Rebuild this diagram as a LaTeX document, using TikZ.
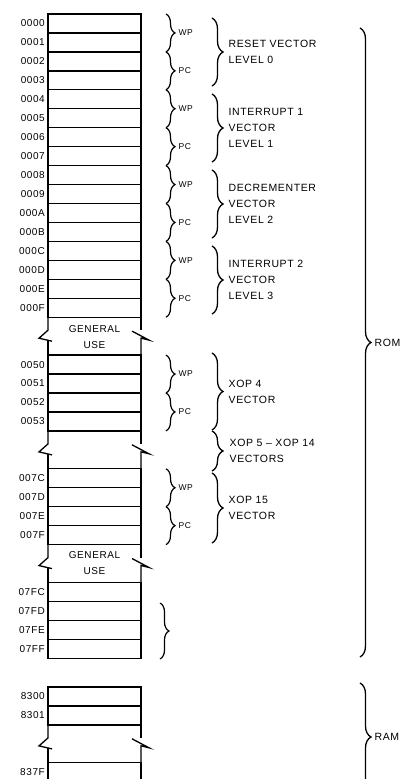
\documentclass[tikz,border=0pt]{standalone}
\usepackage{fontspec}
\setmainfont{Liberation Sans}
\newfontfamily\mapfont[LetterSpace=6]{Liberation Sans}
\usetikzlibrary{positioning, decorations.pathreplacing}

\tikzset{
  cell/.style={draw, line width=1.3pt, minimum width=93pt, minimum height=18.95pt,
    inner sep=0pt, outer sep=0pt, anchor=north west},
  addr/.style={font=\mapfont\fontsize{10}{12}\selectfont, inner sep=0pt},
  side/.style={line width=1.3pt, line join=miter},
  smallbrace/.style={decorate, decoration={brace, amplitude=9pt}, line width=1.2pt},
  vecbrace/.style={decorate, decoration={brace, amplitude=11pt}, line width=1.3pt},
  tag/.style={font=\mapfont\fontsize{8.5}{9}\selectfont, anchor=west, inner sep=0pt},
  note/.style={font=\mapfont\fontsize{10.5}{16}\selectfont, align=left, anchor=west, inner sep=0pt},
  gen/.style={font=\mapfont\fontsize{10}{16}\selectfont, align=center, inner sep=0pt}
}

\begin{document}
\begin{tikzpicture}[x=1pt, y=-1pt]
  \useasboundingbox (0,0) rectangle (405,779);

  % ROM cells
  \foreach \a/\k in {0000/0, 0001/1, 0002/2, 0003/3, 0004/4, 0005/5, 0006/6, 0007/7,
      0008/8, 0009/9, 000A/10, 000B/11, 000C/12, 000D/13, 000E/14, 000F/15,
      0050/18, 0051/19, 0052/20, 0053/21, 007C/24, 007D/25, 007E/26, 007F/27,
      07FC/30, 07FD/31, 07FE/32, 07FF/33} {
    \node[cell] (r\a) at (48, 14+\k*18.95) {};
    \node[addr, left=3pt of r\a] (l\a) {\a};
  }
  % RAM cells
  \foreach \a/\k in {8300/0, 8301/1, 837F/4} {
    \node[cell] (r\a) at (48, 687+\k*18.95) {};
    \node[addr, left=3pt of r\a] (l\a) {\a};
  }

  % broken sides
  \foreach \t/\b in {000F/0050, 0053/007C, 007F/07FC, 8301/837F} {
    \draw[side] (r\t.south west) -- ++(0,13) -- ++(-9,8) -- ++(13,3);
    \draw[side] (r\b.north west) -- ++(0,-15);
    \draw[side] (r\t.south east) -- ++(0,13);
    \draw[side] (r\b.north east) -- ++(0,-17) -- ++(8,2) -- ++(-17,-9);
  }
  \node[gen] (gen1) at (94.5, 337) {GENERAL\\USE};
  \node[gen] (gen2) at (94.5, 563) {GENERAL\\USE};

  % WP / PC pairs
  \foreach \a/\b/\c/\d [count=\n] in {0000/0001/0002/0003, 0004/0005/0006/0007,
      0008/0009/000A/000B, 000C/000D/000E/000F, 0050/0051/0052/0053, 007C/007D/007E/007F} {
    \draw[smallbrace] (166,0 |- r\a.north) -- (166,0 |- r\b.south)
      node[midway, tag, xshift=12pt] (wp\n) {WP};
    \draw[smallbrace] (166,0 |- r\c.north) -- (166,0 |- r\d.south)
      node[midway, tag, xshift=12pt] (pc\n) {PC};
  }
  \draw[smallbrace] (160,603) -- (160,659);

  % vectors
  \draw[vecbrace] (212,18) -- (212,86) node[midway, note, xshift=16pt] (lev0) {RESET VECTOR\\LEVEL 0};
  \draw[vecbrace] (212,94) -- (212,162) node[midway, note, xshift=16pt] (lev1) {INTERRUPT 1\\VECTOR\\LEVEL 1};
  \draw[vecbrace] (212,170) -- (212,238) node[midway, note, xshift=16pt] (lev2) {DECREMENTER\\VECTOR\\LEVEL 2};
  \draw[vecbrace] (212,246) -- (212,314) node[midway, note, xshift=16pt] (lev3) {INTERRUPT 2\\VECTOR\\LEVEL 3};
  \draw[vecbrace] (212,353) -- (212,430) node[midway, note, xshift=16pt] (xop4) {XOP 4\\VECTOR};
  \draw[vecbrace] (212,431) -- (212,471) node[midway, note, xshift=17pt] (xops) {XOP 5 – XOP 14\\VECTORS};
  \draw[vecbrace] (212,473) -- (212,543) node[midway, note, xshift=16pt] (xop15) {XOP 15\\VECTOR};

  % ROM / RAM
  \draw[vecbrace] (360,28) -- (360,657) node[midway, note, xshift=14pt] (rom) {ROM};
  \draw[vecbrace] (360,683) -- (360,791) node[midway, note, xshift=14pt] (ram) {RAM};
\end{tikzpicture}
\end{document}
